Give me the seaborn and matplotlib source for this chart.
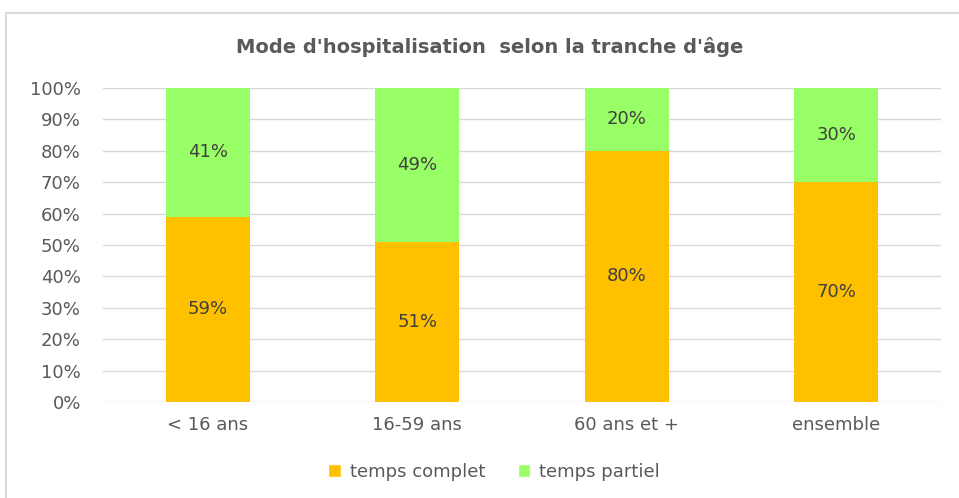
import pandas as pd
import seaborn as sns
import matplotlib.pyplot as plt
from matplotlib.patches import Patch, Rectangle

categories = ["< 16 ans", "16-59 ans", "60 ans et +", "ensemble"]
complet = [59, 51, 80, 70]
partiel = [41, 49, 20, 30]

df = pd.DataFrame({"tranche": categories, "complet": complet, "partiel": partiel})
df["total"] = df["complet"] + df["partiel"]

sns.set_theme(style="white")
plt.rcParams["font.family"] = ["DejaVu Sans"]

orange = "#FFC000"
green = "#99FF66"
txt = "#595959"

fig = plt.figure(figsize=(9.59, 4.98), dpi=100)
ax = fig.add_axes([103 / 959, 1 - 402 / 498, 838 / 959, 314 / 498])

sns.barplot(data=df, x="tranche", y="total", color=green, width=0.4,
            saturation=1, linewidth=0, ax=ax, zorder=2)
sns.barplot(data=df, x="tranche", y="complet", color=orange, width=0.4,
            saturation=1, linewidth=0, ax=ax, zorder=3)

for i, (c, p) in enumerate(zip(complet, partiel)):
    ax.text(i, c / 2, f"{c}%", ha="center", va="center", fontsize=13, color="#404040", zorder=4)
    ax.text(i, c + p / 2, f"{p}%", ha="center", va="center", fontsize=13, color="#404040", zorder=4)

ax.set_xlim(-0.5, 3.5)
ax.set_ylim(0, 100)
ax.set_yticks(range(0, 101, 10))
ax.set_yticklabels([f"{v}%" for v in range(0, 101, 10)], fontsize=13, color=txt)
ax.set_xticklabels(categories, fontsize=13, color=txt)
ax.tick_params(axis="both", length=0)
ax.tick_params(axis="y", pad=16)
ax.tick_params(axis="x", pad=10)
ax.set_xlabel("")
ax.set_ylabel("")
ax.grid(axis="y", color="#d9d9d9", linewidth=1, zorder=0)
ax.set_axisbelow(True)
for s in ax.spines.values():
    s.set_visible(False)

fig.text(490 / 959, 1 - 47 / 498, "Mode d'hospitalisation  selon la tranche d'âge",
         ha="center", va="center", fontsize=14, fontweight="bold", color=txt)

handles = [Patch(facecolor=orange, label="temps complet"),
           Patch(facecolor=green, label="temps partiel")]
fig.legend(handles=handles, loc="center", bbox_to_anchor=(494 / 959, 1 - 472 / 498),
           ncol=2, frameon=False, fontsize=13, handlelength=0.7, handleheight=0.7,
           columnspacing=1.8, handletextpad=0.5, labelcolor=txt)

fig.patches.append(Rectangle((6 / 959, -0.1), 1.2, 1 - 13 / 498 + 0.1,
                             transform=fig.transFigure, fill=False,
                             edgecolor="#d9d9d9", linewidth=1.5))

fig.savefig("out.png", dpi=100)
